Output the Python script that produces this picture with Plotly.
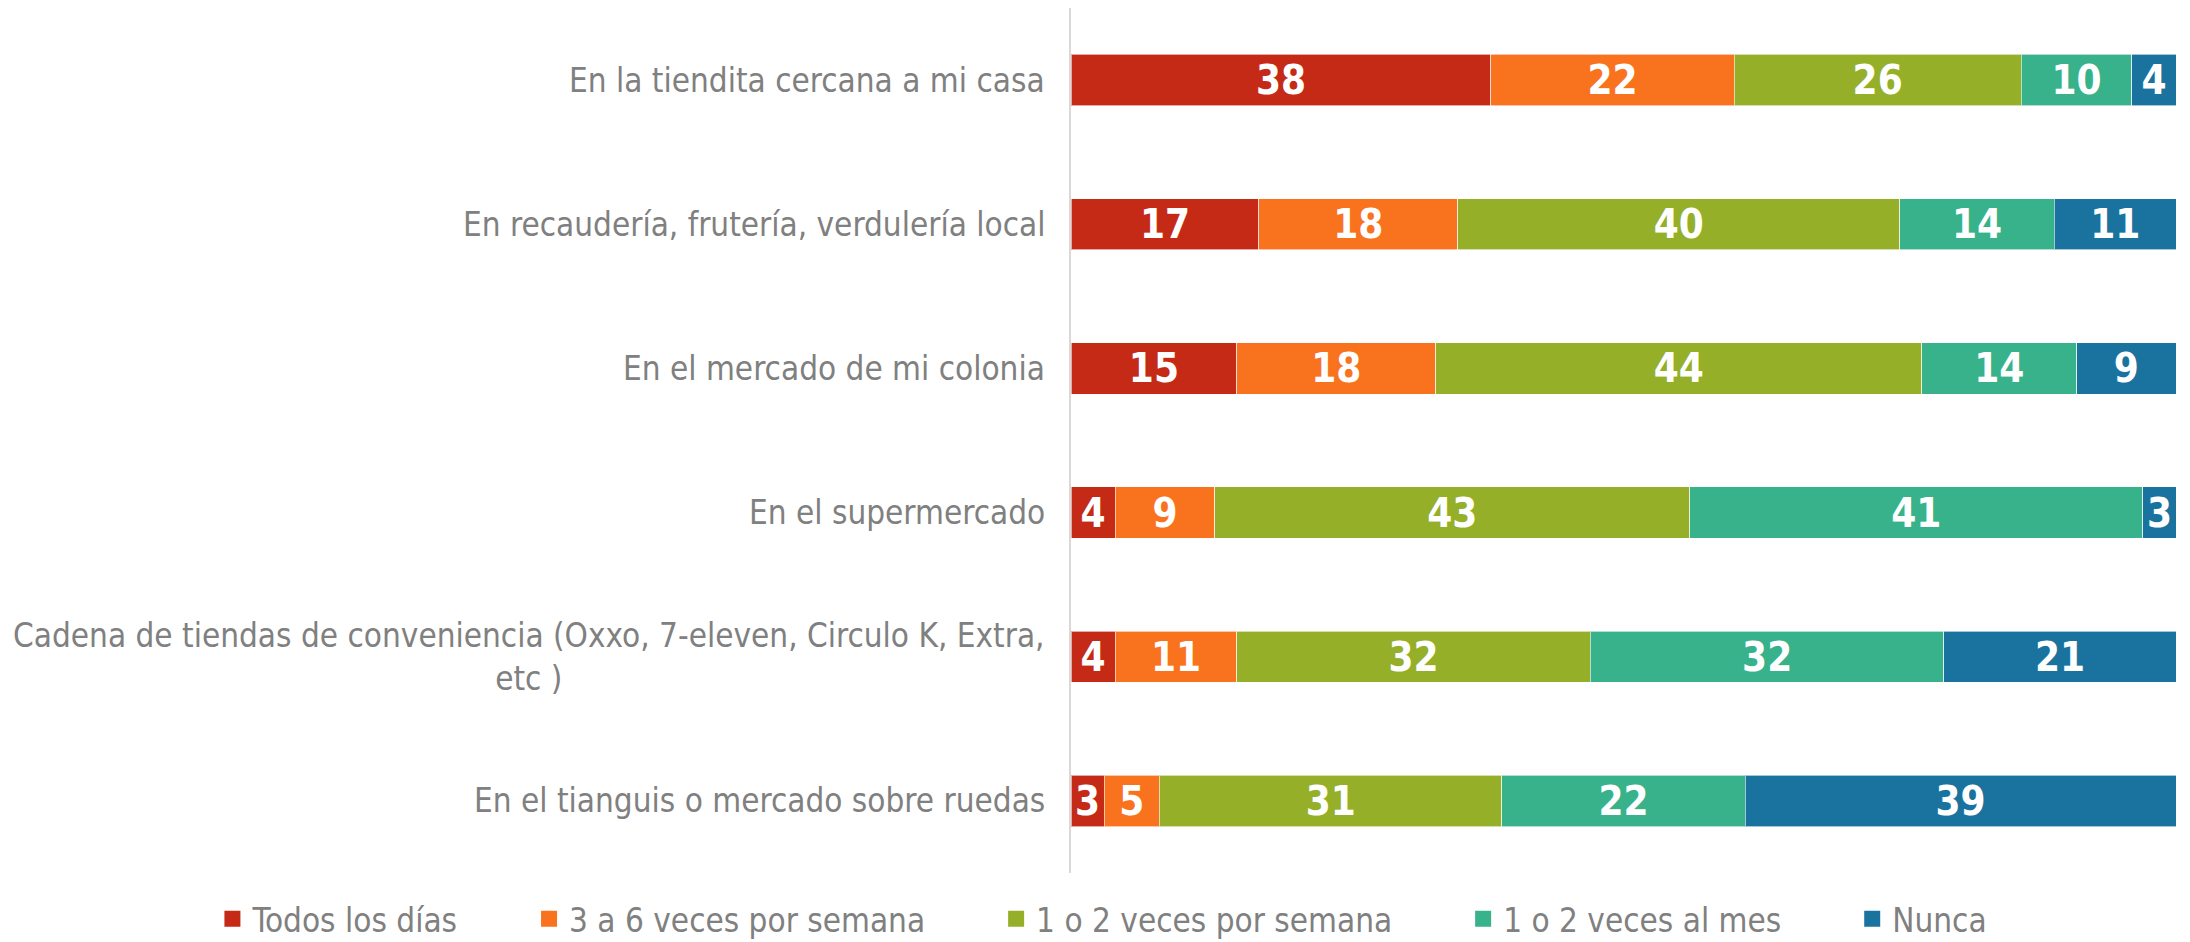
import plotly.graph_objects as go

categories = [
    "En la tiendita cercana a mi casa",
    "En recaudería, frutería, verdulería local",
    "En el mercado de mi colonia",
    "En el supermercado",
    "Cadena de tiendas de conveniencia (Oxxo, 7-eleven, Circulo K, Extra,<br>etc )",
    "En el tianguis o mercado sobre ruedas",
]
series_names = ["Todos los días", "3 a 6 veces por semana", "1 o 2 veces por semana",
                "1 o 2 veces al mes", "Nunca"]
todos_los_dias = [38, 17, 15, 4, 4, 3]
tres_a_seis_semana = [22, 18, 18, 9, 11, 5]
uno_dos_semana = [26, 40, 44, 43, 32, 31]
uno_dos_mes = [10, 14, 14, 41, 32, 22]
nunca = [4, 11, 9, 3, 21, 39]
colors = ["#C42A16", "#F9731F", "#95AF28", "#38B28B", "#1A739E"]

series_values = [todos_los_dias, tres_a_seis_semana, uno_dos_semana, uno_dos_mes, nunca]

FONT = "DejaVu Sans Condensed, Liberation Sans Narrow, sans-serif"
LEGEND_PAD = "&nbsp;" * 7

fig = go.Figure()
for i, (name, vals, col) in enumerate(zip(series_names, series_values, colors)):
    fig.add_trace(go.Bar(
        y=categories, x=vals, name=name, orientation="h",
        marker=dict(color=col, line=dict(color="rgba(255,255,255,0.6)", width=1)),
        text=[str(v) for v in vals], textposition="inside", insidetextanchor="middle",
        textangle=0,
        textfont=dict(color="white", size=40, family=FONT, weight="bold"),
        cliponaxis=False, showlegend=False, legendgroup=name,
    ))
    # legend entry with a larger square swatch
    pad = LEGEND_PAD if i < len(series_names) - 1 else ""
    fig.add_trace(go.Scatter(
        x=[None], y=[None], mode="markers", name=name + pad, legendgroup=name,
        marker=dict(symbol="square", size=17, color=col),
        showlegend=True,
    ))

for cat in categories:
    fig.add_annotation(
        x=0, xref="paper", xanchor="right", xshift=-24,
        y=cat, yref="y", yanchor="middle",
        text=cat, showarrow=False, align="center",
        font=dict(size=33, color="#808080", family=FONT),
    )

fig.update_layout(
    barmode="stack",
    bargap=0.645,
    width=2182, height=934,
    paper_bgcolor="white", plot_bgcolor="white",
    margin=dict(l=1063, r=14, t=0, b=69, autoexpand=False),
    font=dict(family=FONT, color="#808080"),
    uniformtext=dict(minsize=40, mode="show"),
    showlegend=True,
    legend=dict(
        orientation="h", x=-0.777, xref="paper", xanchor="left",
        y=-0.053, yref="paper", yanchor="middle",
        font=dict(size=33, color="#808080", family=FONT),
        traceorder="normal", itemwidth=30,
    ),
    xaxis=dict(range=[0, 100], visible=False, fixedrange=True),
    yaxis=dict(autorange="reversed", showticklabels=False, ticks="",
               showline=True, linecolor="#D9D9D9", linewidth=2, showgrid=False,
               zeroline=False),
)

fig.write_html("out.html")
